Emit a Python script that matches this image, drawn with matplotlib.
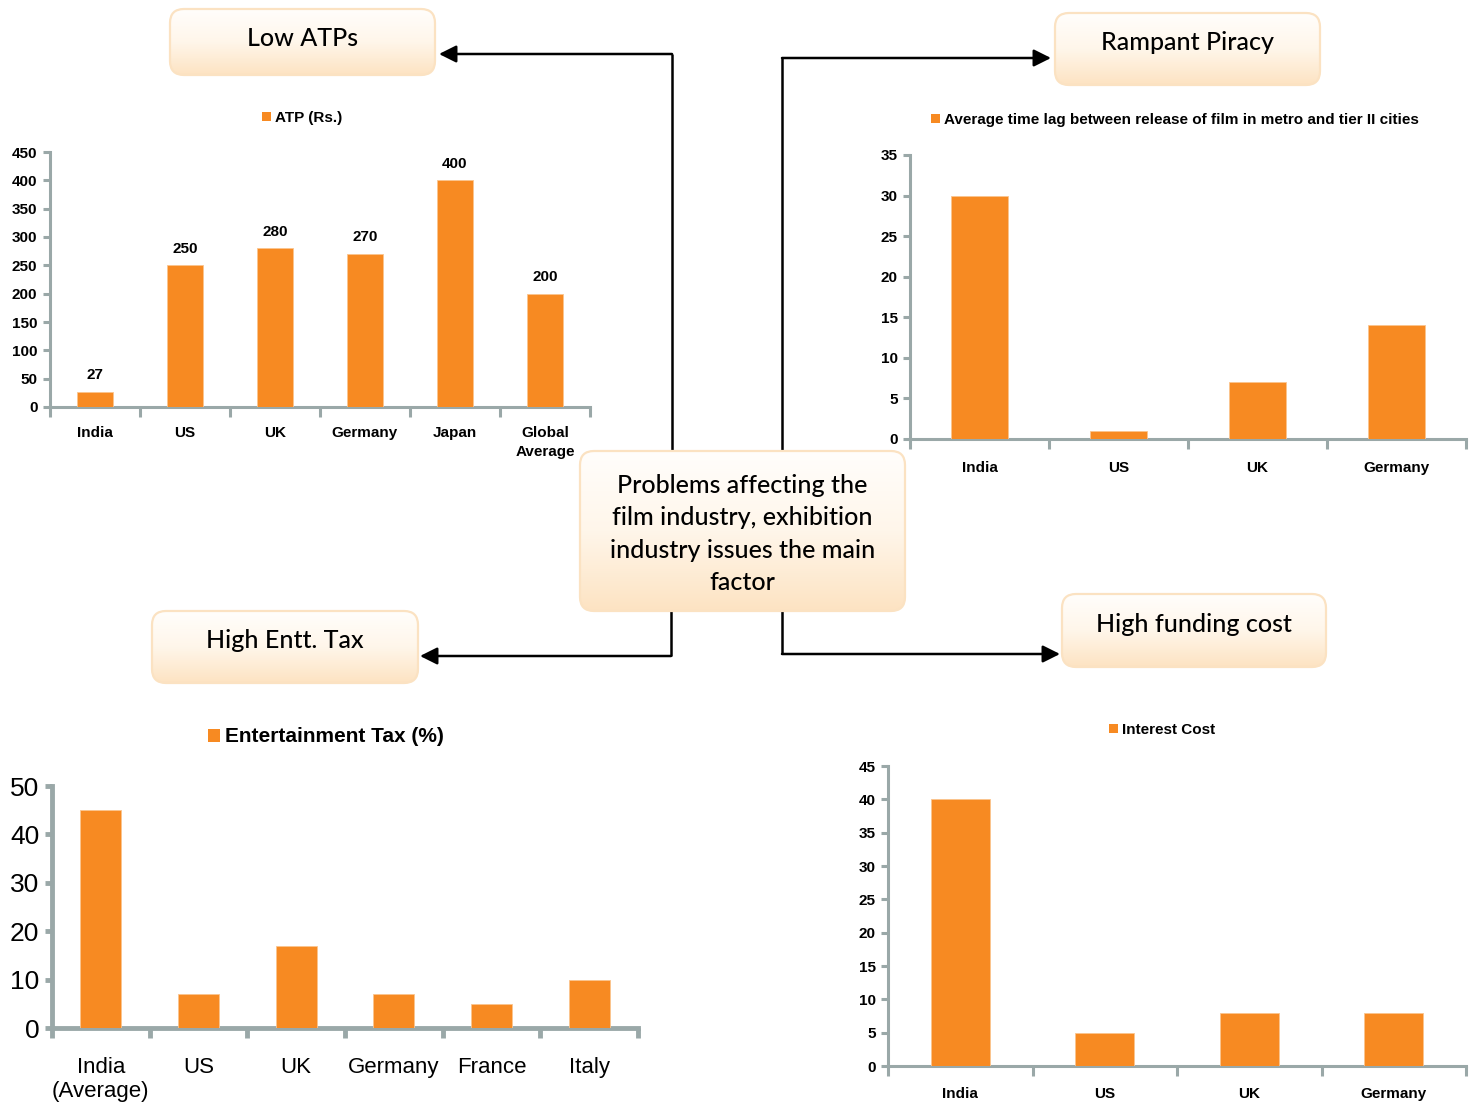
"""
Film industry problems: four bar charts around a central theme box
"""
import matplotlib
matplotlib.use('Agg')
import matplotlib.pyplot as plt
import numpy as np
from matplotlib.patches import FancyBboxPatch, Patch
from matplotlib.ticker import FixedLocator

W, H = 1476, 1110

ORANGE = '#F78A22'
AXIS_GREY = '#9AA8A8'
CHART_FONT = ['Liberation Sans Narrow', 'Liberation Sans', 'DejaVu Sans']
BOX_FONT = ['Lato', 'DejaVu Sans']

# ATP (Rs.)
atp_labels = ['India', 'US', 'UK', 'Germany', 'Japan', 'Global\nAverage']
atp_values = [27, 250, 280, 270, 400, 200]

# Average time lag between release in metro and tier II cities
lag_labels = ['India', 'US', 'UK', 'Germany']
lag_values = [30, 1, 7, 14]

# Entertainment tax (%)
tax_labels = ['India\n(Average)', 'US', 'UK', 'Germany', 'France', 'Italy']
tax_values = [45, 7, 17, 7, 5, 10]

# Interest cost
int_labels = ['India', 'US', 'UK', 'Germany']
int_values = [40, 5, 8, 8]


def px_axes(fig, left, top, right, bottom):
    """Add an axes given its edges in pixel coordinates (origin top-left)."""
    return fig.add_axes([left / W, 1 - bottom / H, (right - left) / W, (bottom - top) / H])


def bar_chart(fig, rect, labels, values, ymax, ystep, legend_text, legend_xy,
              tick_size=11, label_size=11, legend_size=11, spine_lw=2.2,
              weight='bold', value_labels=False, bar_width=0.4, label_pad=14,
              label_spacing=1.25):
    ax = px_axes(fig, *rect)
    ax.patch.set_alpha(0)
    x = np.arange(len(labels))
    bars = ax.bar(x, values, width=bar_width, color=ORANGE, edgecolor='#FBC48E',
                  linewidth=0.6, zorder=3)

    ax.set_xlim(-0.5, len(labels) - 0.5)
    ax.set_ylim(0, ymax)
    ax.set_yticks(np.arange(0, ymax + ystep / 2, ystep))
    ax.set_xticks(x)
    ax.set_xticklabels(labels, fontsize=label_size, fontweight=weight, family=CHART_FONT,
                       linespacing=label_spacing, va='top')
    ax.xaxis.set_minor_locator(FixedLocator(np.arange(-0.5, len(labels), 1.0)))
    ax.tick_params(axis='x', which='major', length=0, pad=label_pad)
    ax.tick_params(axis='x', which='minor', length=7, width=spine_lw, color=AXIS_GREY)
    ax.tick_params(axis='y', length=5, width=spine_lw, color=AXIS_GREY, pad=4)
    for t in ax.get_yticklabels():
        t.set_fontsize(tick_size)
        t.set_fontweight(weight)
        t.set_family(CHART_FONT)

    for side in ('top', 'right'):
        ax.spines[side].set_visible(False)
    for side in ('left', 'bottom'):
        ax.spines[side].set_color(AXIS_GREY)
        ax.spines[side].set_linewidth(spine_lw)

    if value_labels:
        for bar, val in zip(bars, values):
            ax.annotate(f'{val}', xy=(bar.get_x() + bar.get_width() / 2, bar.get_height()),
                        xytext=(0, 7), textcoords='offset points', ha='center', va='bottom',
                        fontsize=tick_size, fontweight='bold', family=CHART_FONT)

    handle = Patch(facecolor=ORANGE, edgecolor='none')
    ax.legend([handle], [legend_text], loc='center',
              bbox_to_anchor=(legend_xy[0] / W, 1 - legend_xy[1] / H),
              bbox_transform=fig.transFigure, frameon=False,
              handlelength=0.6, handleheight=0.6, handletextpad=0.25,
              prop={'family': CHART_FONT, 'weight': 'bold', 'size': legend_size})
    return ax


def gradient_box(ax, x0, y0, x1, y1, text, fontsize, text_y=None):
    box = FancyBboxPatch((x0, y0), x1 - x0, y1 - y0,
                         boxstyle='round,pad=0,rounding_size=14',
                         facecolor='none', edgecolor='#FBE2C2', linewidth=1.6, zorder=5)
    ax.add_patch(box)
    grad = np.linspace(0, 1, 256).reshape(-1, 1)
    cmap = matplotlib.colors.LinearSegmentedColormap.from_list(
        'peach', ['#FFFEFC', '#FFF6EA', '#FDE3C2'])
    im = ax.imshow(grad, extent=(x0, x1, y1, y0), cmap=cmap, aspect='auto', zorder=4)
    im.set_clip_path(box)
    ty = text_y if text_y is not None else (y0 + y1) / 2 - 3
    ax.text((x0 + x1) / 2, ty, text, ha='center', va='center', fontsize=fontsize,
            family=BOX_FONT, fontweight='medium', color='black', zorder=6,
            linespacing=1.5)


def elbow_arrow(ax, points):
    xs, ys = zip(*points)
    ax.plot(xs[:-1], ys[:-1], color='black', lw=1.8, zorder=2, solid_capstyle='butt')
    ax.annotate('', xy=points[-1], xytext=points[-2],
                arrowprops=dict(arrowstyle='-|>,head_length=0.8,head_width=0.4',
                                color='black', lw=1.8, shrinkA=0, shrinkB=0,
                                mutation_scale=13), zorder=2)


fig = plt.figure(figsize=(W / 100, H / 100), dpi=100)
fig.patch.set_facecolor('white')

# overlay in pixel coordinates for the boxes and connectors
ov = fig.add_axes([0, 0, 1, 1])
ov.set_xlim(0, W)
ov.set_ylim(H, 0)
ov.axis('off')
ov.set_zorder(5)

bar_chart(fig, (50, 152, 590, 407), atp_labels, atp_values, 450, 50,
          'ATP (Rs.)', (302, 118), value_labels=True, label_spacing=1.45)
bar_chart(fig, (910, 155, 1466, 439), lag_labels, lag_values, 35, 5,
          'Average time lag between release of film in metro and tier II cities', (1175, 120),
          bar_width=0.41, label_pad=16)
bar_chart(fig, (52, 786, 638, 1028), tax_labels, tax_values, 50, 10,
          'Entertainment Tax (%)', (326, 737), tick_size=19, label_size=16, legend_size=15,
          spine_lw=3.5, weight='normal', bar_width=0.42, label_pad=21, label_spacing=1.15)
bar_chart(fig, (888, 766, 1466, 1066), int_labels, int_values, 45, 5,
          'Interest Cost', (1162, 730), bar_width=0.41, label_pad=15)

# connectors from the central box
elbow_arrow(ov, [(672, 452), (672, 54), (439, 54)])
elbow_arrow(ov, [(782, 452), (782, 58), (1051, 58)])
elbow_arrow(ov, [(671, 609), (671, 656), (420, 656)])
elbow_arrow(ov, [(782, 609), (782, 654), (1060, 654)])

gradient_box(ov, 170, 9, 435, 75, 'Low ATPs', 18, text_y=38)
gradient_box(ov, 1055, 13, 1320, 85, 'Rampant Piracy', 18, text_y=43)
gradient_box(ov, 152, 611, 418, 683, 'High Entt. Tax', 18, text_y=641)
gradient_box(ov, 1062, 594, 1326, 667, 'High funding cost', 18, text_y=625)
gradient_box(ov, 580, 451, 905, 611,
             'Problems affecting the\nfilm industry, exhibition\nindustry issues the main\nfactor',
             18, text_y=534)

plt.savefig('out.png', dpi=100)
plt.close()
